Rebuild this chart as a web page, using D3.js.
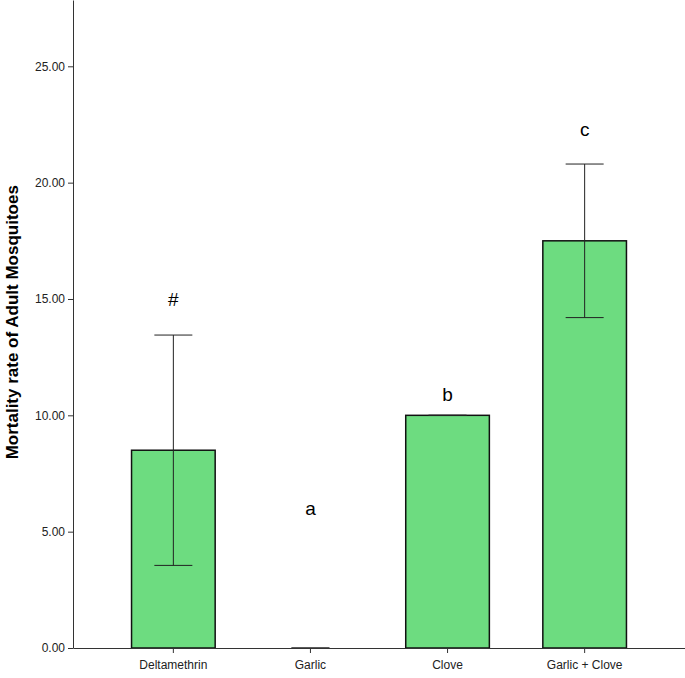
<!DOCTYPE html>
<html><head><meta charset="utf-8">
<script src="https://cdn.jsdelivr.net/npm/d3@7"></script>
<style>body{margin:0;background:#fff}</style>
</head><body>
<script>
// data
const groups = ['Deltamethrin', 'Garlic', 'Clove', 'Garlic + Clove'];
const means = [8.5, 0, 10, 17.5];
const errLow = [3.55, 0, 10, 14.2];
const errHigh = [13.45, 0, 10, 20.8];
const letters = ['#', 'a', 'b', 'c'];
const letterPos = [14.7, 5.7, 10.6, 22.0];
const yTicks = [0, 5, 10, 15, 20, 25];

const width = 685, height = 678;
const svg = d3.select('body').append('svg').attr('width', width).attr('height', height);

const x = d3.scaleBand().domain(groups).range([73, 685]).paddingOuter(0.427).paddingInner(0.39);
const y = d3.scaleLinear().domain([0, 27.85]).range([648, 0]);

// bars
svg.append('g').selectAll('rect').data(groups).join('rect')
    .attr('x', d => x(d)).attr('width', x.bandwidth())
    .attr('y', (d, i) => y(means[i])).attr('height', (d, i) => y(0) - y(means[i]))
    .attr('fill', '#6ddc80').attr('stroke', '#111').attr('stroke-width', 1.5);

// error bars
let eb = svg.append('g').attr('stroke', '#222').attr('stroke-width', 1);
groups.forEach((g, i) => {
    let cx = x(g) + x.bandwidth() / 2, hw = 19;
    eb.append('line').attr('x1', cx).attr('x2', cx).attr('y1', y(errLow[i])).attr('y2', y(errHigh[i]));
    eb.append('line').attr('x1', cx - hw).attr('x2', cx + hw).attr('y1', y(errLow[i])).attr('y2', y(errLow[i]));
    eb.append('line').attr('x1', cx - hw).attr('x2', cx + hw).attr('y1', y(errHigh[i])).attr('y2', y(errHigh[i]));
});

// letters
svg.append('g').selectAll('text').data(groups).join('text')
    .attr('x', d => x(d) + x.bandwidth() / 2).attr('y', (d, i) => y(letterPos[i]))
    .attr('text-anchor', 'middle').attr('font-family', 'Liberation Sans, Arial').attr('font-size', 19)
    .text((d, i) => letters[i]);

// axes
const yAxis = svg.append('g').attr('transform', 'translate(73,0)')
    .call(d3.axisLeft(y).tickValues(yTicks).tickFormat(d3.format('.2f')).tickSize(5).tickSizeOuter(0));
const xAxis = svg.append('g').attr('transform', 'translate(0,648)')
    .call(d3.axisBottom(x).tickSize(5).tickSizeOuter(0));
[yAxis, xAxis].forEach(a => {
    a.selectAll('text').attr('font-family', 'Liberation Sans, Arial').attr('font-size', 12).attr('fill', '#222');
    a.selectAll('path,line').attr('stroke', '#333');
});
xAxis.selectAll('text').attr('dy', '1.1em');

svg.append('text')
    .attr('transform', 'translate(18,' + (y(14)) + ') rotate(-90)')
    .attr('text-anchor', 'middle').attr('font-family', 'Liberation Sans, Arial')
    .attr('font-size', 17).attr('font-weight', 'bold')
    .text('Mortality rate of Adult Mosquitoes');
</script>
</body></html>
